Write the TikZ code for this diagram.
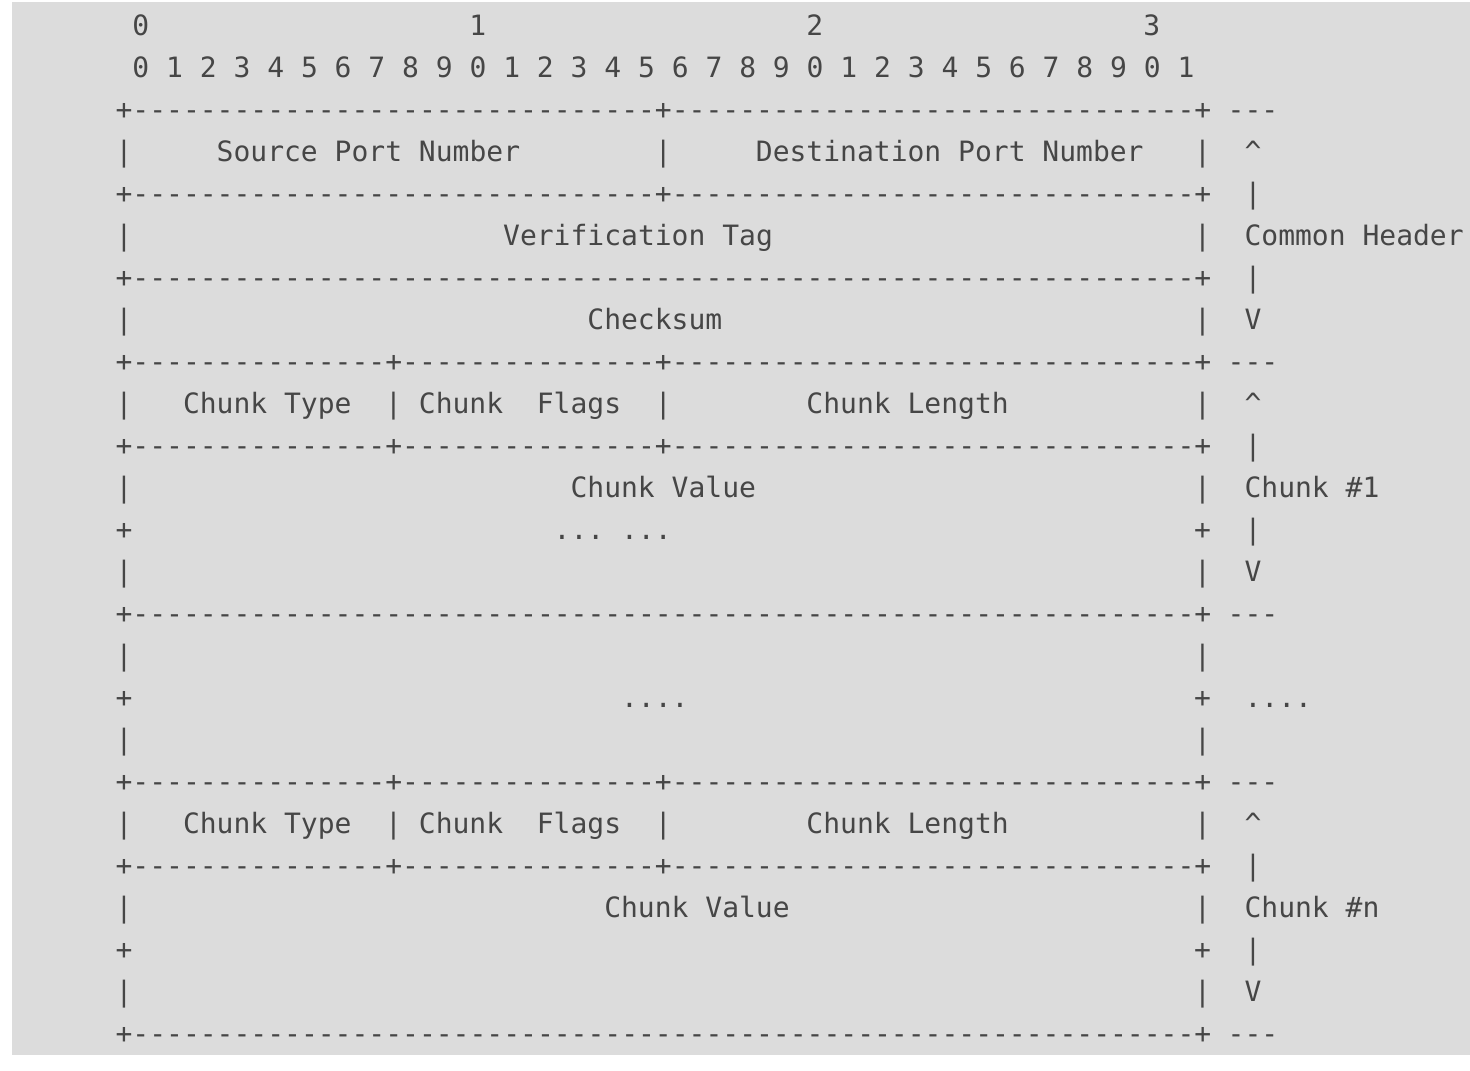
\documentclass[tikz,border=0pt]{standalone}
\usepackage{fontspec}
\setmonofont{DejaVu Sans Mono}
\definecolor{pagebg}{HTML}{DCDCDC}
\definecolor{ink}{HTML}{464646}
\tikzset{
  txt/.style={anchor=base west, inner sep=0pt, outer sep=0pt, text=ink,
              font=\ttfamily\fontsize{14pt}{21pt}\selectfont}
}
% place text at column #1 of line #2
\newcommand\cell[3]{\node[txt] (r#2c#1) at (57.8pt+#1*8.425pt, -17.75pt-#2*21pt) {#3};}
\newcommand\fullrule{+---------------------------------------------------------------+}
\newcommand\halfrule{+-------------------------------+-------------------------------+}
\newcommand\quarterrule{+---------------+---------------+-------------------------------+}
\begin{document}
\begin{tikzpicture}
\useasboundingbox (0,0) rectangle (735pt,-535pt);
\fill[pagebg] (6pt,-1pt) rectangle (735pt,-527.5pt);

% bit ruler
\cell{1}{0}{0}\cell{21}{0}{1}\cell{41}{0}{2}\cell{61}{0}{3}
\cell{1}{1}{0 1 2 3 4 5 6 7 8 9 0 1 2 3 4 5 6 7 8 9 0 1 2 3 4 5 6 7 8 9 0 1}

% common header
\cell{0}{2}{\halfrule}\cell{66}{2}{---}
\cell{0}{3}{|}\cell{6}{3}{Source Port Number}\cell{32}{3}{|}\cell{38}{3}{Destination Port Number}\cell{64}{3}{|}\cell{67}{3}{\^{}}
\cell{0}{4}{\halfrule}\cell{67}{4}{|}
\cell{0}{5}{|}\cell{23}{5}{Verification Tag}\cell{64}{5}{|}\cell{67}{5}{Common Header}
\cell{0}{6}{\fullrule}\cell{67}{6}{|}
\cell{0}{7}{|}\cell{28}{7}{Checksum}\cell{64}{7}{|}\cell{67}{7}{V}

% chunk #1
\cell{0}{8}{\quarterrule}\cell{66}{8}{---}
\cell{0}{9}{|}\cell{4}{9}{Chunk Type}\cell{16}{9}{|}\cell{18}{9}{Chunk}\cell{25}{9}{Flags}\cell{32}{9}{|}\cell{41}{9}{Chunk Length}\cell{64}{9}{|}\cell{67}{9}{\^{}}
\cell{0}{10}{\quarterrule}\cell{67}{10}{|}
\cell{0}{11}{|}\cell{27}{11}{Chunk Value}\cell{64}{11}{|}\cell{67}{11}{Chunk \#1}
\cell{0}{12}{+}\cell{26}{12}{... ...}\cell{64}{12}{+}\cell{67}{12}{|}
\cell{0}{13}{|}\cell{64}{13}{|}\cell{67}{13}{V}

% elided chunks
\cell{0}{14}{\fullrule}\cell{66}{14}{---}
\cell{0}{15}{|}\cell{64}{15}{|}
\cell{0}{16}{+}\cell{30}{16}{....}\cell{64}{16}{+}\cell{67}{16}{....}
\cell{0}{17}{|}\cell{64}{17}{|}

% chunk #n
\cell{0}{18}{\quarterrule}\cell{66}{18}{---}
\cell{0}{19}{|}\cell{4}{19}{Chunk Type}\cell{16}{19}{|}\cell{18}{19}{Chunk}\cell{25}{19}{Flags}\cell{32}{19}{|}\cell{41}{19}{Chunk Length}\cell{64}{19}{|}\cell{67}{19}{\^{}}
\cell{0}{20}{\quarterrule}\cell{67}{20}{|}
\cell{0}{21}{|}\cell{29}{21}{Chunk Value}\cell{64}{21}{|}\cell{67}{21}{Chunk \#n}
\cell{0}{22}{+}\cell{64}{22}{+}\cell{67}{22}{|}
\cell{0}{23}{|}\cell{64}{23}{|}\cell{67}{23}{V}
\cell{0}{24}{\fullrule}\cell{66}{24}{---}
\end{tikzpicture}
\end{document}
